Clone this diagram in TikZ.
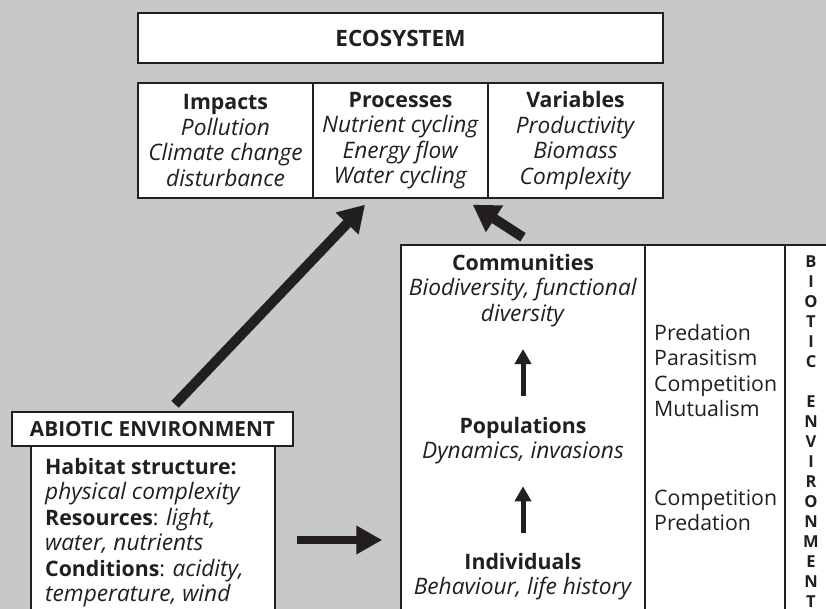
\documentclass[tikz,border=0pt]{standalone}
\usepackage{fontspec}
\setmainfont{Open Sans}[ItalicFeatures={Scale=1.065}]
\usetikzlibrary{arrows.meta}
\definecolor{bg}{RGB}{199,200,202}
\definecolor{ink}{RGB}{35,31,32}
\begin{document}
\begin{tikzpicture}[x=1pt,y=-1pt,
  box/.style={draw=ink, line width=1.4pt, fill=white, inner sep=0pt},
  txt/.style={text=ink, inner sep=0pt, font=\fontsize{21.3}{25.5}\selectfont},
  hdr/.style={text=ink, font=\fontsize{20.8}{23}\selectfont\bfseries},
  lettr/.style={text=ink, inner sep=0pt, align=center, font=\fontsize{16.5}{20}\selectfont\bfseries},
  bigarrow/.style={draw=ink, line width=10pt, -{Triangle[length=26pt,width=30pt]}},
  harrow/.style={draw=ink, line width=8pt, -{Triangle[length=26pt,width=27pt]}},
  uparrow/.style={draw=ink, line width=5pt, -{Triangle[length=15pt,width=16pt]}}
]
\useasboundingbox (0,0) rectangle (826,609);
\fill[bg] (0,0) rectangle (826,609);
\begin{scope}
\clip (0,0) rectangle (826,609);
% ecosystem
\node[box, hdr, font=\fontsize{22.5}{25}\selectfont\bfseries, minimum width=525pt, minimum height=50pt] (eco) at (400.5,38) {ECOSYSTEM};
\node[box, txt, align=center, minimum width=175pt, minimum height=115pt] (imp) at (225.5,140.5)
  {\textbf{Impacts}\\\textit{Pollution}\\\textit{Climate change}\\\textit{disturbance}};
\node[box, txt, align=center, minimum width=175pt, minimum height=115pt] (proc) at (400.5,140.5)
  {\textbf{Processes}\\\textit{Nutrient cycling}\\\textit{Energy flow}\\\textit{Water cycling}};
\node[box, txt, align=center, minimum width=175pt, minimum height=115pt] (var) at (575.5,140.5)
  {\textbf{Variables}\\\textit{Productivity}\\\textit{Biomass}\\\textit{Complexity}};
% biotic part
\node[box, minimum width=244pt, minimum height=375pt] (colL) at (523,432.5) {};
\node[box, minimum width=140pt, minimum height=375pt] (colM) at (715,432.5) {};
\node[box, minimum width=75pt, minimum height=375pt] (colR) at (822.5,432.5) {};
\node[txt, align=center] (comm) at (523,290.5)
  {\textbf{Communities}\\\textit{Biodiversity, functional}\\\textit{diversity}};
\node[txt, align=center] (pop) at (523,440.5)
  {\textbf{Populations}\\\textit{Dynamics, invasions}};
\node[txt, align=center] (ind) at (523,576.5)
  {\textbf{Individuals}\\\textit{Behaviour, life history}};
\node[txt, align=left, anchor=west] (inter1) at (654,370.5)
  {Predation\\Parasitism\\Competition\\Mutualism};
\node[txt, align=left, anchor=west] (inter2) at (654,510.5)
  {Competition\\Predation};
\node[lettr] (biotic) at (811,431.5)
  {B\\I\\O\\T\\I\\C\\\strut\\E\\N\\V\\I\\R\\O\\N\\M\\E\\N\\T};
% abiotic part
\node[box, minimum width=244pt, minimum height=174pt] (abbody) at (153,533) {};
\node[box, hdr, minimum width=281pt, minimum height=34pt] (abhead) at (152.5,429) {ABIOTIC ENVIRONMENT};
\node[txt, align=left, anchor=west] (abtext) at (45,532.5)
  {\textbf{Habitat structure:}\\\textit{physical complexity}\\\textbf{Resources}: \textit{light,}\\\textit{water, nutrients}\\\textbf{Conditions}: \textit{acidity,}\\\textit{temperature, wind}};
% arrows
\draw[bigarrow] ([shift={(22.5,-7)}]abhead.north) -- ([shift={(-35.5,6)}]proc.south);
\draw[bigarrow] ([shift={(0,-7)}]colL.north) -- ([shift={(-16,6)}]proc.south east);
\draw[harrow] ([shift={(21,7)}]abbody.east) -- ([shift={(-18,107.5)}]colL.west);
\draw[uparrow] ([shift={(0,-21)}]pop.north) -- ([shift={(0,22)}]comm.south);
\draw[uparrow] ([shift={(0,-20)}]ind.north) -- ([shift={(0,22)}]pop.south);
\end{scope}
\end{tikzpicture}
\end{document}
